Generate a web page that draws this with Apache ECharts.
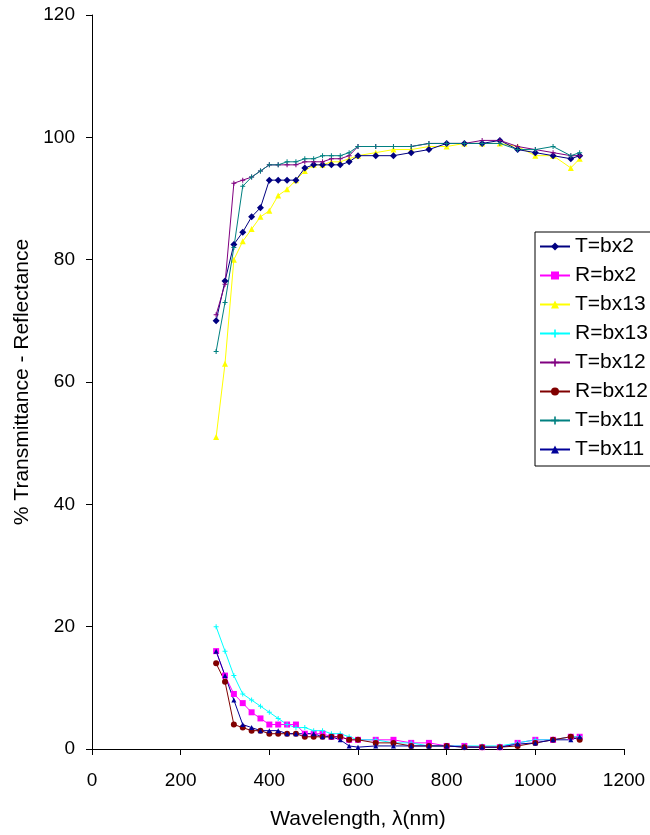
<!DOCTYPE html>
<html>
<head>
<meta charset="utf-8">
<script src="https://cdn.jsdelivr.net/npm/echarts@6/dist/echarts.min.js"></script>
<style>html,body{margin:0;padding:0;background:#fff;}#c{width:650px;height:835px;}</style>
</head>
<body>
<div id="c"></div>
<script>
// wavelengths (nm)
var wl = [280,300,320,340,360,380,400,420,440,460,480,500,520,540,560,580,600,640,680,720,760,800,840,880,920,960,1000,1040,1080,1100];
var T_bx2  = [70,76.5,82.5,84.5,87,88.5,93,93,93,93,95,95.5,95.5,95.5,95.5,96,97,97,97,97.5,98,99,99,99,99.5,98,97.5,97,96.5,97];
var R_bx2  = [16,12,9,7.5,6,5,4,4,4,4,2.5,2.5,2.5,2,2,1.5,1.5,1.5,1.5,1,1,0.5,0.5,0.3,0.3,1,1.5,1.5,2,2];
var T_bx13 = [51,63,80,83,85,87,88,90.5,91.5,93,94.5,95.5,95.5,96,96,96.5,97,97.5,98,98,98.5,98.5,99,99,99,98.5,97,97,95,96.5];
var R_bx13 = [20,16,12,9,8,7,6,5,4,3.5,3.5,3,3,2.5,2.5,2,1.5,1.5,1,1,0.5,0.5,0.5,0.5,0.5,1,1.5,1.5,2,2];
var T_bx12 = [71,76,92.5,93,93.5,94.5,95.5,95.5,95.5,95.5,96,96,96,96.5,96.5,97,98.5,98.5,98.5,98.5,99,99,99,99.5,99.5,98.5,98,97.5,97,97];
var R_bx12 = [14,11,4,3.5,3,3,2.5,2.5,2.5,2.5,2,2,2,2,2,1.5,1.5,1,1,0.5,0.5,0.5,0.3,0.3,0.3,0.5,1,1.5,2,1.5];
var T_bx11 = [65,73,82,92,93.5,94.5,95.5,95.5,96,96,96.5,96.5,97,97,97,97.5,98.5,98.5,98.5,98.5,99,99,99,99,99,98,98,98.5,97,97.5];
var T_bx11b = [16,12,8,4,3.5,3,3,3,2.5,2.5,2.5,2.5,2,2,1.5,0.5,0.3,0.5,0.5,0.5,0.5,0.5,0.3,0.3,0.3,0.8,1,1.5,1.5,2];

var names = ['T=bx2','R=bx2','T=bx13','R=bx13','T=bx12','R=bx12','T=bx11','T=bx11 '];
var colors = ['#000080','#FF00FF','#FFFF00','#00FFFF','#800080','#800000','#008080','#000099'];
var values = [T_bx2,R_bx2,T_bx13,R_bx13,T_bx12,R_bx12,T_bx11,T_bx11b];
var plus = 'path://M2,0H3V2H5V3H3V5H2V3H0V2H2Z';
var symbols = ['diamond','rect','triangle',plus,plus,'circle',plus,'triangle'];
var sizes = [7,6,6,5,5,6,5,5];

function pairs(v){ return wl.map(function(x,i){ return [x, v[i]]; }); }

var series = names.map(function(n,i){
  return {
    name: n, type: 'line', data: pairs(values[i]),
    symbol: symbols[i], symbolSize: sizes[i], showAllSymbol: true,
    lineStyle: {color: colors[i], width: 1},
    itemStyle: {color: colors[i]},
    z: (i === 2 ? 1 : 2)
  };
});

var chart = echarts.init(document.getElementById('c'), null, {renderer: 'canvas'});
var font = 'Liberation Sans';
chart.setOption({
  animation: false,
  backgroundColor: '#fff',
  color: colors,
  textStyle: {fontFamily: font},
  grid: {left: 92, right: 26, top: 15, bottom: 83, containLabel: false},
  legend: {
    data: names, orient: 'vertical', left: 535, top: 232,
    itemWidth: 30, itemHeight: 10, itemGap: 8,
    padding: [4, 14, 6, 4],
    borderColor: '#000', borderWidth: 1, backgroundColor: '#fff',
    textStyle: {fontFamily: font, fontSize: 21, lineHeight: 21, color: '#000'}
  },
  xAxis: {
    type: 'value', min: 0, max: 1200, interval: 200,
    axisLine: {show: true, onZero: false, lineStyle: {color: '#000', width: 1}},
    axisTick: {show: true, inside: false, length: 6, lineStyle: {color: '#000'}},
    axisLabel: {color: '#000', fontSize: 19, fontFamily: font, margin: 22,
      formatter: function(v){ return String(v); }},
    splitLine: {show: false},
    name: 'Wavelength, \u03bb(nm)', nameLocation: 'middle', nameGap: 60,
    nameTextStyle: {color: '#000', fontSize: 21, fontFamily: font}
  },
  yAxis: {
    type: 'value', min: 0, max: 120, interval: 20,
    axisLine: {show: true, lineStyle: {color: '#000', width: 1}},
    axisTick: {show: true, inside: false, length: 6, lineStyle: {color: '#000'}},
    axisLabel: {color: '#000', fontSize: 19, fontFamily: font, margin: 17},
    splitLine: {show: false},
    name: '% Transmittance - Reflectance', nameLocation: 'middle', nameGap: 58,
    nameTextStyle: {color: '#000', fontSize: 21, fontFamily: font}
  },
  series: series
});
</script>
</body>
</html>
